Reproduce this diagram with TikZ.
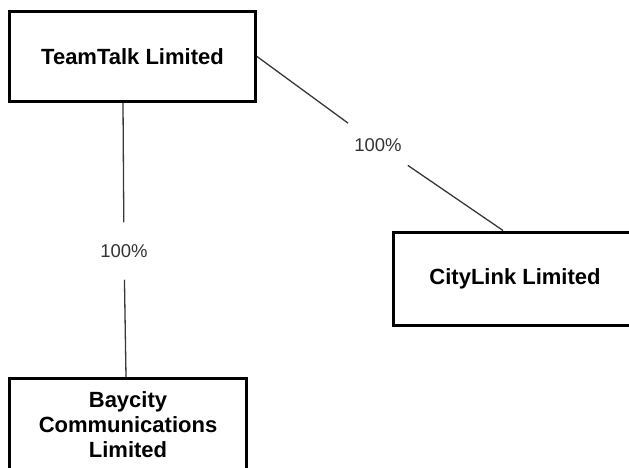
\documentclass[tikz,border=0pt]{standalone}
\usepackage{fontspec}
\setmainfont{Liberation Sans}
\begin{document}
\begin{tikzpicture}[x=1pt,y=-1pt,
  entity/.style={draw=black,line width=3pt,align=center,inner sep=0pt,
    font=\bfseries\fontsize{22}{25}\selectfont},
  share/.style={font=\fontsize{18.5}{22}\selectfont,text=black!80,
    inner xsep=6pt,inner ysep=22pt},
  link/.style={draw=black!78,line width=1.3pt}]
\useasboundingbox (0,0) rectangle (629,468);
\node[entity,minimum width=246pt,minimum height=90pt] (tt) at (132.5,56.5) {TeamTalk Limited};
\node[entity,minimum width=243pt,minimum height=93pt] (cl) at (515,278.5) {CityLink Limited};
\node[entity,minimum width=237pt,minimum height=93pt] (bc) at (128,425) {Baycity\\Communications\\Limited};
\node[share] (s1) at (124,251) {100\%};
\node[share] (s2) at (378,145) {100\%};
\draw[link] ([xshift=-9.5pt]tt.south) -- (s1);
\draw[link] (s1) -- ([xshift=-2pt]bc.north);
\draw[link] (tt.east) -- (s2);
\draw[link] (s2) -- ([xshift=-12pt]cl.north);
\end{tikzpicture}
\end{document}
